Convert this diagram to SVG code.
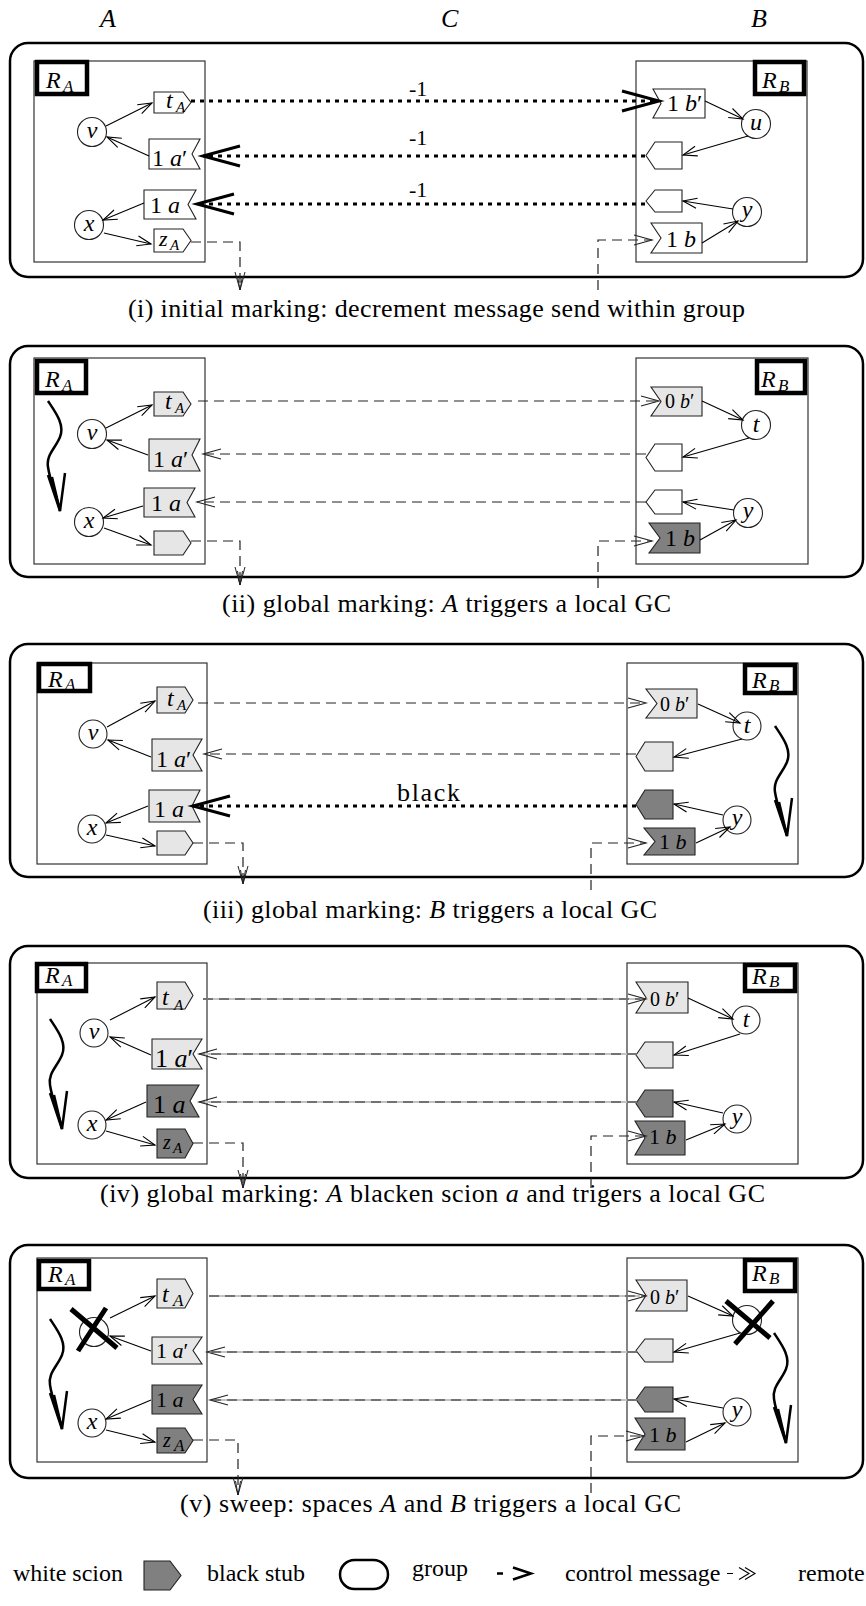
<svg xmlns="http://www.w3.org/2000/svg" xmlns:xlink="http://www.w3.org/1999/xlink" width="866" height="1606" viewBox="0 0 866 1606">
<style>
text{font-family:"Liberation Serif","Times New Roman",serif;fill:#000}
.it{font-style:italic}
.cap{font-size:26px}
.leg{font-size:24px}
.f26{font-size:26px}.f24{font-size:24px}.f22{font-size:22px}.f20{font-size:20px}.f17{font-size:17px}.f15{font-size:15px}
.grp{fill:none;stroke:#000;stroke-width:2.5}
.box{fill:#fff;stroke:#333;stroke-width:1.2}
.rl{fill:#fff;stroke:#000;stroke-width:4.5}
.w{fill:#fff;stroke:#222;stroke-width:1.1}
.l{fill:#e6e6e6;stroke:#222;stroke-width:1.1}
.d{fill:#808080;stroke:#222;stroke-width:1.1}
.c{fill:#fff;stroke:#222;stroke-width:1.1}
.arr{fill:none;stroke:#000;stroke-width:1.1;marker-end:url(#oa)}
.dash{fill:none;stroke:#222;stroke-width:1.2;stroke-dasharray:10 6;marker-end:url(#oc)}
.rem{fill:none;stroke:#222;stroke-width:1.2;stroke-dasharray:10 6;marker-end:url(#od)}
.und{fill:none;stroke:#c4c4c4;stroke-width:1.8}
.dot{fill:none;stroke:#000;stroke-width:2.8;stroke-dasharray:4 5;marker-end:url(#ob)}
.xx{stroke:#000;stroke-width:5;stroke-linecap:butt}
.sq{fill:none;stroke:#000;stroke-width:2.5}
</style>
<defs>
<marker id="oa" markerUnits="userSpaceOnUse" viewBox="0 0 16 12" refX="15" refY="6" markerWidth="16" markerHeight="12" orient="auto" overflow="visible"><path d="M1,1 L15,6 L1,11" fill="none" stroke="#000" stroke-width="1.1"/></marker>
<marker id="ob" markerUnits="userSpaceOnUse" viewBox="0 0 40 24" refX="38" refY="12" markerWidth="40" markerHeight="24" orient="auto" overflow="visible"><path d="M1,2 L38,12 L1,22" fill="none" stroke="#000" stroke-width="3" stroke-dasharray="none"/></marker>
<marker id="oc" markerUnits="userSpaceOnUse" viewBox="0 0 20 14" refX="19" refY="7" markerWidth="20" markerHeight="14" orient="auto" overflow="visible"><path d="M1,2 L19,7 L1,12" fill="none" stroke="#222" stroke-width="1.1" stroke-dasharray="none"/></marker>
<marker id="od" markerUnits="userSpaceOnUse" viewBox="0 0 20 14" refX="19" refY="7" markerWidth="20" markerHeight="14" orient="auto" overflow="visible"><path d="M1,2 L19,7 L1,12 M5,4.5 L19,7 L5,9.5" fill="none" stroke="#222" stroke-width="1" stroke-dasharray="none"/></marker>
<g id="squig"><path class="sq" d="M0,0 C8,12 17,24 12,36 C7,48 -2,54 0,66 C2,80 9,96 12,110"/><path class="sq" d="M0,74 L12,110 L17,72 M4,76 L12,110"/></g>
</defs>
<rect width="866" height="1606" fill="#fff"/>

<g id="top-labels">
<text x="100" y="27" class="f26 it">A</text>
<text x="441" y="27" class="f26 it">C</text>
<text x="751" y="27" class="f26 it">B</text>
</g>

<!-- ===== Panel i ===== -->
<g id="p1">
<g id="p1-group"><rect class="grp" x="10" y="43" width="853" height="234" rx="18"/></g>
<g id="p1-RA"><rect class="box" x="34" y="61" width="171" height="201"/><rect class="rl" x="37" y="62" width="50" height="32"/><text x="46" y="88" class="f24 it">R</text><text x="63" y="92" class="f17 it">A</text></g>
<g id="p1-RB"><rect class="box" x="636" y="61" width="171" height="201"/><rect class="rl" x="755" y="62" width="49" height="32"/><text x="762" y="88" class="f24 it">R</text><text x="779" y="92" class="f17 it">B</text></g>
<g id="p1-v"><circle class="c" cx="92" cy="132" r="14.5"/><text x="92" y="138" class="f24 it" text-anchor="middle">v</text></g>
<g id="p1-x"><circle class="c" cx="89" cy="225" r="14.5"/><text x="89" y="231" class="f24 it" text-anchor="middle">x</text></g>
<g id="p1-tA"><polygon class="w" points="154,92 183,92 191,102.5 183,113 154,113"/><text x="166" y="108" class="f24 it">t</text><text x="176" y="112" class="f15 it">A</text></g>
<g id="p1-a1"><polygon class="w" points="149,139 200,139 192,154 200,169 149,169"/><text x="152" y="166" class="f24">1 <tspan class="it">a</tspan>′</text></g>
<g id="p1-a"><polygon class="w" points="144,190 196,190 188,204.5 196,219 144,219"/><text x="150" y="213" class="f24">1 <tspan class="it">a</tspan></text></g>
<g id="p1-zA"><polygon class="w" points="154,229 183,229 191,240.5 183,252 154,252"/><text x="159" y="246" class="f22 it">z</text><text x="170" y="250" class="f15 it">A</text></g>
<g id="p1-u"><circle class="c" cx="756" cy="124" r="14.5"/><text x="756" y="130" class="f24 it" text-anchor="middle">u</text></g>
<g id="p1-y"><circle class="c" cx="747" cy="212" r="14.5"/><text x="747" y="217" class="f24 it" text-anchor="middle">y</text></g>
<g id="p1-b1"><polygon class="w" points="653,89 705,89 705,118 653,118 661,103.5"/><text x="667" y="111" class="f24">1 <tspan class="it">b</tspan>′</text></g>
<g id="p1-s1"><polygon class="w" points="646,155.5 655,142 682,142 682,169 655,169"/></g>
<g id="p1-s2"><polygon class="w" points="646,201 655,190 682,190 682,212 655,212"/></g>
<g id="p1-b"><polygon class="w" points="651,223 702,223 702,253 651,253 661,238"/><text x="666" y="247" class="f24">1 <tspan class="it">b</tspan></text></g>
<g id="p1-connectors">
<path class="arr" d="M106,126 L152,103"/>
<path class="arr" d="M149,156 L107,137"/>
<path class="arr" d="M144,203 L103,220"/>
<path class="arr" d="M104,233 L151,244"/>
<path class="arr" d="M705,101 L743,119"/>
<path class="arr" d="M748,136 L683,155"/>
<path class="arr" d="M733,209 L683,201"/>
<path class="arr" d="M702,243 L738,221"/>
<path class="dot" d="M191,101 L659,101"/>
<path class="dot" d="M645,156 L203,156"/>
<path class="dot" d="M645,204 L197,204"/>
<text x="409" y="96" class="f22">-1</text>
<text x="409" y="145" class="f22">-1</text>
<text x="409" y="197" class="f22">-1</text>
<path class="rem" d="M191,242 L240,242 L240,290"/>
<path class="dash" d="M598,290 L598,240 L652,240"/>
</g>
<text x="128" y="317" class="cap" textLength="617" lengthAdjust="spacing">(i) initial marking: decrement message send within group</text>
</g>

<!-- ===== Panel ii ===== -->
<g id="p2">
<g id="p2-group"><rect class="grp" x="10" y="346" width="853" height="231" rx="18"/></g>
<g id="p2-RA"><rect class="box" x="34" y="358" width="171" height="206"/><rect class="rl" x="37" y="361" width="49" height="32"/><text x="45" y="387" class="f24 it">R</text><text x="62" y="391" class="f17 it">A</text></g>
<g id="p2-RB"><rect class="box" x="636" y="358" width="172" height="206"/><rect class="rl" x="757" y="361" width="48" height="32"/><text x="761" y="387" class="f24 it">R</text><text x="778" y="391" class="f17 it">B</text></g>
<use href="#squig" xlink:href="#squig" transform="translate(48,401)"/>
<g id="p2-v"><circle class="c" cx="92" cy="434" r="14.5"/><text x="92" y="440" class="f24 it" text-anchor="middle">v</text></g>
<g id="p2-x"><circle class="c" cx="89" cy="522" r="14.5"/><text x="89" y="528" class="f24 it" text-anchor="middle">x</text></g>
<g id="p2-tA"><polygon class="l" points="154,392 183,392 191,404 183,416 154,416"/><text x="165" y="409" class="f24 it">t</text><text x="175" y="413" class="f15 it">A</text></g>
<g id="p2-a1"><polygon class="l" points="149,439 200,439 192,455 200,471 149,471"/><text x="153" y="467" class="f24">1 <tspan class="it">a</tspan>′</text></g>
<g id="p2-a"><polygon class="l" points="144,488 195,488 187,502.5 195,517 144,517"/><text x="151" y="511" class="f24">1 <tspan class="it">a</tspan></text></g>
<g id="p2-z"><polygon class="l" points="154,531 183,531 191,543 183,555 154,555"/></g>
<g id="p2-t"><circle class="c" cx="756" cy="425" r="14.5"/><text x="756" y="432" class="f24 it" text-anchor="middle">t</text></g>
<g id="p2-y"><circle class="c" cx="748" cy="513" r="14.5"/><text x="748" y="518" class="f24 it" text-anchor="middle">y</text></g>
<g id="p2-b1"><polygon class="l" points="651,387 702,387 702,416 651,416 661,401.5"/><text x="665" y="408" class="f20">0 <tspan class="it">b</tspan>′</text></g>
<g id="p2-s1"><polygon class="w" points="646,457.5 655,444 682,444 682,471 655,471"/></g>
<g id="p2-s2"><polygon class="w" points="646,502 655,490 682,490 682,514 655,514"/></g>
<g id="p2-b"><polygon class="d" points="649,523 700,523 700,553 649,553 660,538"/><text x="665" y="546" class="f24">1 <tspan class="it">b</tspan></text></g>
<g id="p2-connectors">
<path class="arr" d="M106,428 L152,405"/>
<path class="arr" d="M148,455 L107,440"/>
<path class="arr" d="M143,506 L103,518"/>
<path class="arr" d="M104,528 L151,545"/>
<path class="arr" d="M702,401 L743,420"/>
<path class="arr" d="M749,438 L683,457"/>
<path class="arr" d="M734,510 L683,502"/>
<path class="arr" d="M700,540 L736,520"/>
<path class="dash" d="M198,401 L659,401"/>
<path class="dash" d="M646,454 L203,454"/>
<path class="dash" d="M646,502 L197,502"/>
<path class="rem" d="M191,541 L240,541 L240,585"/>
<path class="dash" d="M598,588 L598,541 L652,541"/>
</g>
<text x="222" y="612" class="cap" textLength="449" lengthAdjust="spacing">(ii) global marking: <tspan class="it">A</tspan> triggers a local GC</text>
</g>

<!-- ===== Panel iii ===== -->
<g id="p3">
<g id="p3-group"><rect class="grp" x="10" y="644" width="853" height="233" rx="18"/></g>
<g id="p3-RA"><rect class="box" x="37" y="663" width="170" height="201"/><rect class="rl" x="39" y="664" width="51" height="27"/><text x="48" y="687" class="f24 it">R</text><text x="65" y="690" class="f17 it">A</text></g>
<g id="p3-RB"><rect class="box" x="627" y="663" width="171" height="201"/><rect class="rl" x="745" y="665" width="50" height="28"/><text x="752" y="688" class="f24 it">R</text><text x="769" y="691" class="f17 it">B</text></g>
<use href="#squig" xlink:href="#squig" transform="translate(775,726)"/>
<g id="p3-v"><circle class="c" cx="93" cy="734" r="14"/><text x="93" y="740" class="f24 it" text-anchor="middle">v</text></g>
<g id="p3-x"><circle class="c" cx="92" cy="829" r="14"/><text x="92" y="835" class="f24 it" text-anchor="middle">x</text></g>
<g id="p3-tA"><polygon class="l" points="157,687 185,687 193,700 185,713 157,713"/><text x="167" y="706" class="f24 it">t</text><text x="177" y="710" class="f15 it">A</text></g>
<g id="p3-a1"><polygon class="l" points="152,739 202,739 193,755 202,771 152,771"/><text x="156" y="767" class="f24">1 <tspan class="it">a</tspan>′</text></g>
<g id="p3-a"><polygon class="l" points="149,790 200,790 192,806 200,822 149,822"/><text x="154" y="817" class="f24">1 <tspan class="it">a</tspan></text></g>
<g id="p3-z"><polygon class="l" points="157,831 185,831 193,843 185,855 157,855"/></g>
<g id="p3-t"><circle class="c" cx="747" cy="726" r="14"/><text x="747" y="733" class="f24 it" text-anchor="middle">t</text></g>
<g id="p3-y"><circle class="c" cx="737" cy="820" r="14"/><text x="737" y="825" class="f24 it" text-anchor="middle">y</text></g>
<g id="p3-b1"><polygon class="l" points="646,689 697,689 697,718 646,718 657,703.5"/><text x="660" y="711" class="f20">0 <tspan class="it">b</tspan>′</text></g>
<g id="p3-s1"><polygon class="l" points="636,756.5 645,742 673,742 673,771 645,771"/></g>
<g id="p3-s2"><polygon class="d" points="636,804.5 645,790 673,790 673,819 645,819"/></g>
<g id="p3-b"><polygon class="d" points="644,828 695,828 695,855 644,855 655,841.5"/><text x="659" y="849" class="f22">1 <tspan class="it">b</tspan></text></g>
<g id="p3-connectors">
<path class="arr" d="M107,727 L155,701"/>
<path class="arr" d="M151,757 L108,740"/>
<path class="arr" d="M148,806 L106,823"/>
<path class="arr" d="M106,835 L155,846"/>
<path class="arr" d="M698,704 L740,723"/>
<path class="arr" d="M742,739 L674,757"/>
<path class="arr" d="M723,815 L674,804"/>
<path class="arr" d="M696,843 L730,827"/>
<path class="dash" d="M198,703 L646,703"/>
<path class="dash" d="M636,754 L204,754"/>
<path class="dot" d="M636,806 L193,806"/>
<text x="397" y="801" class="f26" textLength="63" lengthAdjust="spacing">black</text>
<path class="rem" d="M193,843 L243,843 L243,884"/>
<path class="dash" d="M591,890 L591,843 L646,843"/>
</g>
<text x="203" y="918" class="cap" textLength="454" lengthAdjust="spacing">(iii) global marking: <tspan class="it">B</tspan> triggers a local GC</text>
</g>

<!-- ===== Panel iv ===== -->
<g id="p4">
<g id="p4-group"><rect class="grp" x="10" y="946" width="853" height="232" rx="18"/></g>
<g id="p4-RA"><rect class="box" x="37" y="963" width="170" height="201"/><rect class="rl" x="37" y="964" width="49" height="27"/><text x="45" y="983" class="f24 it">R</text><text x="62" y="986" class="f17 it">A</text></g>
<g id="p4-RB"><rect class="box" x="627" y="963" width="171" height="201"/><rect class="rl" x="745" y="965" width="50" height="26"/><text x="752" y="984" class="f24 it">R</text><text x="769" y="987" class="f17 it">B</text></g>
<use href="#squig" xlink:href="#squig" transform="translate(50,1019)"/>
<g id="p4-v"><circle class="c" cx="94" cy="1033" r="14"/><text x="94" y="1039" class="f24 it" text-anchor="middle">v</text></g>
<g id="p4-x"><circle class="c" cx="92" cy="1125" r="14"/><text x="92" y="1131" class="f24 it" text-anchor="middle">x</text></g>
<g id="p4-tA"><polygon class="l" points="157,982 185,982 193,995.5 185,1009 157,1009"/><text x="162" y="1005" class="f24 it">t</text><text x="174" y="1010" class="f15 it">A</text></g>
<g id="p4-a1"><polygon class="l" points="152,1039 202,1039 193,1054 202,1069 152,1069"/><text x="155" y="1067" class="f26">1 <tspan class="it">a</tspan>′</text></g>
<g id="p4-a"><polygon class="d" points="147,1085 199,1085 190,1101 199,1117 147,1117"/><text x="153" y="1113" class="f26">1 <tspan class="it">a</tspan></text></g>
<g id="p4-zA"><polygon class="d" points="157,1129 185,1129 193,1143.5 185,1158 157,1158"/><text x="163" y="1149" class="f20 it">z</text><text x="173" y="1153" class="f15 it">A</text></g>
<g id="p4-t"><circle class="c" cx="746" cy="1020" r="14"/><text x="746" y="1027" class="f24 it" text-anchor="middle">t</text></g>
<g id="p4-y"><circle class="c" cx="737" cy="1119" r="14"/><text x="737" y="1124" class="f24 it" text-anchor="middle">y</text></g>
<g id="p4-b1"><polygon class="l" points="636,982 688,982 688,1013 636,1013 646,997.5"/><text x="650" y="1006" class="f20">0 <tspan class="it">b</tspan>′</text></g>
<g id="p4-s1"><polygon class="l" points="636,1055 645,1042 673,1042 673,1068 645,1068"/></g>
<g id="p4-s2"><polygon class="d" points="636,1103.5 645,1090 673,1090 673,1117 645,1117"/></g>
<g id="p4-b"><polygon class="d" points="635,1121 685,1121 685,1155 635,1155 645,1138"/><text x="649" y="1144" class="f22">1 <tspan class="it">b</tspan></text></g>
<g id="p4-connectors">
<path class="arr" d="M110,1020 L155,997"/>
<path class="arr" d="M151,1055 L110,1037"/>
<path class="arr" d="M146,1102 L106,1120"/>
<path class="arr" d="M106,1131 L155,1145"/>
<path class="arr" d="M688,998 L733,1019"/>
<path class="arr" d="M740,1034 L674,1055"/>
<path class="arr" d="M723,1113 L674,1102"/>
<path class="arr" d="M686,1140 L725,1124"/>
<path class="und" d="M203,999 L640,999 M637,1054 L205,1054 M637,1102 L205,1102"/>
<path class="dash" d="M203,999 L646,999"/>
<path class="dash" d="M637,1054 L199,1054"/>
<path class="dash" d="M637,1102 L199,1102"/>
<path class="rem" d="M193,1143 L243,1143 L243,1188"/>
<path class="dash" d="M591,1188 L591,1136 L646,1136"/>
</g>
<text x="100" y="1202" class="cap" textLength="665" lengthAdjust="spacing">(iv) global marking: <tspan class="it">A</tspan> blacken scion <tspan class="it">a</tspan> and trigers a local GC</text>
</g>

<!-- ===== Panel v ===== -->
<g id="p5">
<g id="p5-group"><rect class="grp" x="10" y="1245" width="853" height="233" rx="18"/></g>
<g id="p5-RA"><rect class="box" x="37" y="1258" width="170" height="204"/><rect class="rl" x="39" y="1261" width="50" height="28"/><text x="48" y="1282" class="f24 it">R</text><text x="65" y="1285" class="f17 it">A</text></g>
<g id="p5-RB"><rect class="box" x="627" y="1258" width="171" height="204"/><rect class="rl" x="745" y="1260" width="50" height="31"/><text x="752" y="1281" class="f24 it">R</text><text x="769" y="1284" class="f17 it">B</text></g>
<use href="#squig" xlink:href="#squig" transform="translate(50,1319)"/>
<use href="#squig" xlink:href="#squig" transform="translate(774,1333)"/>
<g id="p5-v"><circle class="c" cx="94" cy="1332" r="14.5"/><path class="xx" d="M71,1309 L117,1348 M106,1308 L78,1351"/></g>
<g id="p5-x"><circle class="c" cx="92" cy="1423" r="14"/><text x="92" y="1429" class="f24 it" text-anchor="middle">x</text></g>
<g id="p5-tA"><polygon class="l" points="157,1279 185,1279 193,1293.5 185,1308 157,1308"/><text x="162" y="1302" class="f24 it">t</text><text x="173" y="1306" class="f17 it">A</text></g>
<g id="p5-a1"><polygon class="l" points="152,1337 202,1337 193,1350.5 202,1364 152,1364"/><text x="156" y="1358" class="f22">1 <tspan class="it">a</tspan>′</text></g>
<g id="p5-a"><polygon class="d" points="152,1385 202,1385 193,1399.5 202,1414 152,1414"/><text x="156" y="1407" class="f22">1 <tspan class="it">a</tspan></text></g>
<g id="p5-zA"><polygon class="d" points="157,1428 185,1428 193,1440.5 185,1453 157,1453"/><text x="163" y="1447" class="f20 it">z</text><text x="174" y="1451" class="f17 it">A</text></g>
<g id="p5-t"><circle class="c" cx="747" cy="1320" r="14.5"/><path class="xx" d="M726,1301 L770,1338 M773,1301 L735,1344"/></g>
<g id="p5-y"><circle class="c" cx="737" cy="1412" r="14"/><text x="737" y="1417" class="f24 it" text-anchor="middle">y</text></g>
<g id="p5-b1"><polygon class="l" points="636,1280 687,1280 687,1311 636,1311 646,1295.5"/><text x="650" y="1304" class="f20">0 <tspan class="it">b</tspan>′</text></g>
<g id="p5-s1"><polygon class="l" points="636,1350.5 645,1339 673,1339 673,1362 645,1362"/></g>
<g id="p5-s2"><polygon class="d" points="636,1399.5 645,1387 673,1387 673,1412 645,1412"/></g>
<g id="p5-b"><polygon class="d" points="635,1418 685,1418 685,1450 635,1450 645,1434"/><text x="649" y="1442" class="f22">1 <tspan class="it">b</tspan></text></g>
<g id="p5-connectors">
<path class="arr" d="M110,1318 L155,1296"/>
<path class="arr" d="M151,1351 L110,1336"/>
<path class="arr" d="M151,1400 L106,1419"/>
<path class="arr" d="M106,1430 L155,1442"/>
<path class="arr" d="M688,1296 L733,1316"/>
<path class="arr" d="M740,1333 L674,1352"/>
<path class="arr" d="M723,1408 L674,1399"/>
<path class="arr" d="M686,1442 L725,1423"/>
<path class="und" d="M209,1296 L640,1296 M637,1352 L212,1352 M637,1400 L215,1400"/>
<path class="dash" d="M209,1296 L646,1296"/>
<path class="dash" d="M637,1352 L207,1352"/>
<path class="dash" d="M637,1400 L210,1400"/>
<path class="rem" d="M193,1440 L238,1440 L238,1495"/>
<path class="dash" d="M591,1493 L591,1436 L644,1436"/>
</g>
<text x="180" y="1512" class="cap" textLength="501" lengthAdjust="spacing">(v) sweep: spaces <tspan class="it">A</tspan> and <tspan class="it">B</tspan> triggers a local GC</text>
</g>

<!-- ===== Legend ===== -->
<g id="legend">
<text x="13" y="1581" class="leg">white scion</text>
<g id="leg-stub"><polygon class="d" points="144,1561 170,1561 181,1575.5 170,1590 144,1590"/></g>
<text x="207" y="1581" class="leg">black stub</text>
<g id="leg-group"><rect x="340" y="1560" width="48" height="29" rx="14.5" fill="none" stroke="#000" stroke-width="2.5"/></g>
<text x="412" y="1576" class="leg">group</text>
<g id="leg-control"><path d="M497,1573.5 L503,1573.5 M513,1567.5 L531,1573.5 L513,1579.5" fill="none" stroke="#000" stroke-width="2.5"/></g>
<text x="565" y="1581" class="leg">control message</text>
<g id="leg-remote"><path d="M727,1573.5 L733,1573.5 M739,1567.5 L749,1573.5 L739,1579.5 M745,1567.5 L755,1573.5 L745,1579.5" fill="none" stroke="#000" stroke-width="1.1"/></g>
<text x="798" y="1581" class="leg">remote</text>
</g>
</svg>
